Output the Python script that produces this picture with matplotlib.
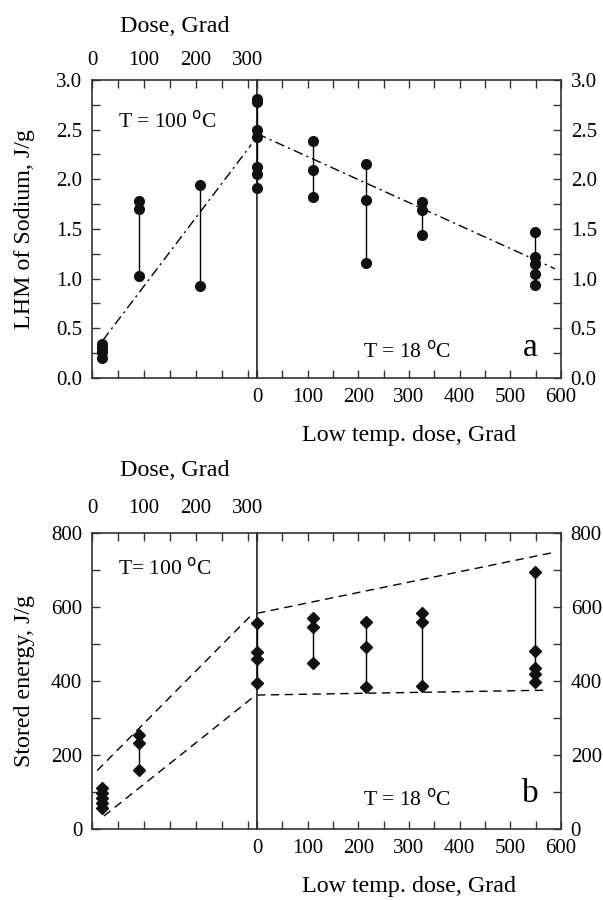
import matplotlib
matplotlib.use("Agg")
import matplotlib.pyplot as plt
from matplotlib.ticker import MultipleLocator, FixedLocator

plt.rcParams['font.family'] = ['Liberation Serif', 'DejaVu Serif']
plt.rcParams['font.size'] = 15
plt.rcParams['axes.edgecolor'] = '#333333'
plt.rcParams['axes.linewidth'] = 1.2

# --- panel a: LHM of sodium ---
# high-temperature irradiation (top axis, Dose, Grad)
a_hot_x = [20, 90, 209]
a_hot_y = [[0.34, 0.30, 0.26, 0.20], [1.78, 1.70, 1.03], [1.94, 0.93]]
# low-temperature irradiation (bottom axis, Low temp. dose, Grad)
a_cold_x = [0, 111, 216, 325, 548]
a_cold_y = [[2.81, 2.78, 2.50, 2.43, 2.12, 2.05, 1.91],
            [2.39, 2.09, 1.82],
            [2.15, 1.79, 1.16],
            [1.77, 1.69, 1.44],
            [1.47, 1.22, 1.15, 1.05, 0.94]]
a_fit_hot = ([21, 307], [0.38, 2.35])
a_fit_cold = ([0, 588], [2.46, 1.10])

# --- panel b: stored energy ---
b_hot_x = [20, 90]
b_hot_y = [[112, 97, 83, 70, 58], [254, 232, 159]]
b_cold_x = [0, 111, 216, 325, 548]
b_cold_y = [[556, 479, 459, 394],
            [569, 547, 450],
            [560, 493, 385],
            [585, 560, 386],
            [695, 482, 436, 419, 396]]
b_env_hot_up = ([10, 307], [158, 578])
b_env_hot_lo = ([23, 313], [35, 359])
b_env_cold_up = ([0, 584], [583, 747])
b_env_cold_lo = ([0, 565], [362, 375])

fig = plt.figure(figsize=(6.03, 9), dpi=100)

x0, xs, x1 = 92 / 603, 257 / 603, 561 / 603


def make_panel(bottom, height, ymax, ymajor, yminor, yfmt, ylabel,
               toppad=7, toplabelpad=14):
    axl = fig.add_axes([x0, bottom, xs - x0, height])
    axr = fig.add_axes([xs, bottom, x1 - xs, height])
    for ax in (axl, axr):
        ax.set_ylim(0, ymax)
        ax.yaxis.set_major_locator(MultipleLocator(ymajor))
        ax.yaxis.set_minor_locator(MultipleLocator(yminor))
        ax.tick_params(which='both', direction='in', top=True, bottom=True,
                       length=6, width=1, color='#333333')
    # left part: top dose axis
    axl.set_xlim(0, 318)
    axl.xaxis.set_major_locator(FixedLocator([0, 100, 200, 300]))
    axl.xaxis.set_minor_locator(MultipleLocator(50))
    axl.tick_params(axis='x', which='both', labelbottom=False, labeltop=True)
    axl.tick_params(axis='x', which='major', pad=toppad)
    axl.tick_params(axis='y', which='both', left=True, right=False,
                    labelleft=True, labelright=False)
    axl.tick_params(axis='y', which='major', pad=7)
    axl.xaxis.set_label_position('top')
    axl.set_xlabel('Dose, Grad', fontsize=17.3, labelpad=toplabelpad)
    axl.set_ylabel(ylabel, fontsize=17.3)
    axl.yaxis.set_label_coords(-0.345, 0.5)
    axl.yaxis.set_major_formatter(yfmt)
    # right part: low temperature dose
    axr.set_xlim(0, 600)
    axr.xaxis.set_major_locator(MultipleLocator(100))
    axr.xaxis.set_minor_locator(MultipleLocator(50))
    axr.tick_params(axis='x', which='major', pad=7)
    axr.tick_params(axis='y', which='both', left=False, right=True,
                    labelleft=False, labelright=True)
    axr.tick_params(axis='y', which='major', pad=7)
    axr.yaxis.set_major_formatter(yfmt)
    axr.set_xlabel('Low temp. dose, Grad', fontsize=17.3, labelpad=13)
    return axl, axr


def draw_groups(ax, xs_, ys_, marker, ms):
    for x, ys in zip(xs_, ys_):
        ax.plot([x] * len(ys), ys, color='black', lw=1, marker=marker,
                ms=ms, mfc='#111111', mec='#111111', clip_on=False, zorder=3)


# panel a
fa = lambda v, p: f'{v:.1f}'
axl, axr = make_panel(1 - 378 / 900, 298 / 900, 3.0, 0.5, 0.25, fa,
                      'LHM of Sodium, J/g')
draw_groups(axl, a_hot_x, a_hot_y, 'o', 7)
draw_groups(axr, a_cold_x, a_cold_y, 'o', 7)
axl.plot(*a_fit_hot, color='black', lw=1, ls=(0, (7, 3, 1.5, 3)))
axr.plot(*a_fit_cold, color='black', lw=1, ls=(0, (7, 3, 1.5, 3)))
axl.text(0.16, 0.86, 'T = 100 $^{\\rm o}$C', transform=axl.transAxes,
         fontsize=15.5, ha='left', va='center')
axr.text(0.35, 0.09, 'T = 18 $^{\\rm o}$C', transform=axr.transAxes,
         fontsize=15.5, ha='left', va='center')
axr.text(0.90, 0.10, 'a', transform=axr.transAxes, fontsize=24,
         ha='center', va='center')

# panel b
fb = lambda v, p: f'{v:.0f}'
bxl, bxr = make_panel(1 - 829 / 900, 296 / 900, 800, 200, 100, fb,
                      'Stored energy, J/g', toppad=11, toplabelpad=16)
draw_groups(bxl, b_hot_x, b_hot_y, 'D', 6.5)
draw_groups(bxr, b_cold_x, b_cold_y, 'D', 6.5)
for (xx, yy), ax in [(b_env_hot_up, bxl), (b_env_hot_lo, bxl),
                     (b_env_cold_up, bxr), (b_env_cold_lo, bxr)]:
    ax.plot(xx, yy, color='black', lw=1, ls=(0, (6, 4)))
bxl.text(0.16, 0.88, 'T= 100 $^{\\rm o}$C', transform=bxl.transAxes,
         fontsize=15.5, ha='left', va='center')
bxr.text(0.35, 0.10, 'T = 18 $^{\\rm o}$C', transform=bxr.transAxes,
         fontsize=15.5, ha='left', va='center')
bxr.text(0.90, 0.12, 'b', transform=bxr.transAxes, fontsize=24,
         ha='center', va='center')

fig.savefig('out.png', dpi=100)
